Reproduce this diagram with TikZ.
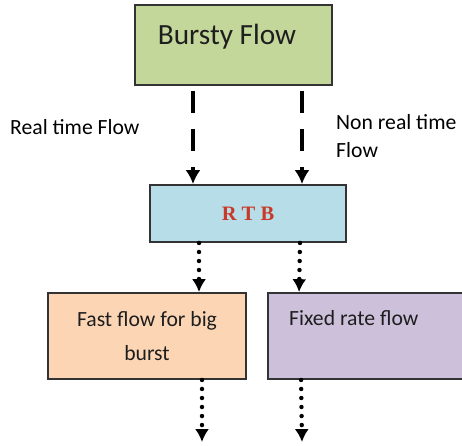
\documentclass[tikz,border=0pt]{standalone}
\usepackage{fontspec}
\setmainfont{Carlito}
\newfontfamily\rtbfont{Liberation Serif}
\usetikzlibrary{arrows.meta}
\definecolor{ink}{HTML}{1E1E1E}
\definecolor{edge}{HTML}{333333}
\definecolor{rtbred}{HTML}{C8392A}
\definecolor{burstfill}{HTML}{C4D79B}
\definecolor{rtbfill}{HTML}{B7DEE8}
\definecolor{fastfill}{HTML}{FCD5B5}
\definecolor{fixedfill}{HTML}{CCC0DA}

\begin{document}
\begin{tikzpicture}[
  text=ink,
  box/.style={
    draw=edge,
    line width=1.6pt,
    align=center,
    inner sep=0pt
  },
  burst/.style={box, fill=burstfill, minimum width=5.91cm, minimum height=2.4cm},
  buffer/.style={box, fill=rtbfill, minimum width=5.88cm, minimum height=1.71cm,
    font=\rtbfont\bfseries\fontsize{17.5}{20}\selectfont, text=rtbred},
  fastbox/.style={box, fill=fastfill, minimum width=5.94cm, minimum height=2.58cm,
    font=\fontsize{18.5}{29}\selectfont},
  fixedbox/.style={box, fill=fixedfill, minimum width=6.21cm, minimum height=2.58cm},
  dasharrow/.style={-{Latex[length=12pt,width=13pt]}, line width=3.6pt, draw=black,
    dash pattern=on 18.8pt off 13.7pt},
  dotarrow/.style={-{Latex[length=11pt,width=12pt]}, line width=3.8pt, draw=black,
    line cap=round, dash pattern=on 0pt off 7.7pt},
  meta/.style={font=\fontsize{18.5}{24}\selectfont, text=black, align=left, inner sep=0pt}
]
\useasboundingbox (0,0) rectangle (13.86,-13.35);

\node[burst] (bursty) at (7.005,-1.35) {};
\node[font=\fontsize{25}{28}\selectfont, inner sep=0pt] (burstytext) at (6.81,-1.11) {Bursty Flow};

\node[buffer] (rtb) at (7.44,-6.405) {R T B};

\node[fastbox] (fast) at (4.41,-10.08) {Fast flow for big\\burst};
\node[fixedbox] (fixed) at (11.145,-10.08) {};
\node[font=\fontsize{18.5}{22}\selectfont, inner sep=0pt, anchor=west] (fixedtext) at (8.67,-9.54) {Fixed rate flow};

\node[meta, anchor=west] (realtime) at (0.3,-3.81) {Real time Flow};
\node[meta, anchor=west] (nonreal) at (10.08,-4.08) {Non real time\\Flow};

\coordinate (fastout) at (6.06,-13.26);
\coordinate (fixedout) at (9.06,-13.26);

\draw[dasharrow, shorten <=0.15cm] ([xshift=-1.215cm]bursty.south) -- ([xshift=-1.65cm]rtb.north);
\draw[dasharrow, shorten <=0.15cm] ([xshift=2.055cm]bursty.south) -- ([xshift=1.62cm]rtb.north);

\draw[dotarrow] ([xshift=-1.47cm]rtb.south) -- ([xshift=1.56cm]fast.north);
\draw[dotarrow] ([xshift=1.56cm]rtb.south) -- ([xshift=0.96cm]fixed.north west);

\draw[dotarrow] ([xshift=1.65cm]fast.south) -- (fastout);
\draw[dotarrow] ([xshift=1.02cm]fixed.south west) -- (fixedout);

\end{tikzpicture}
\end{document}
